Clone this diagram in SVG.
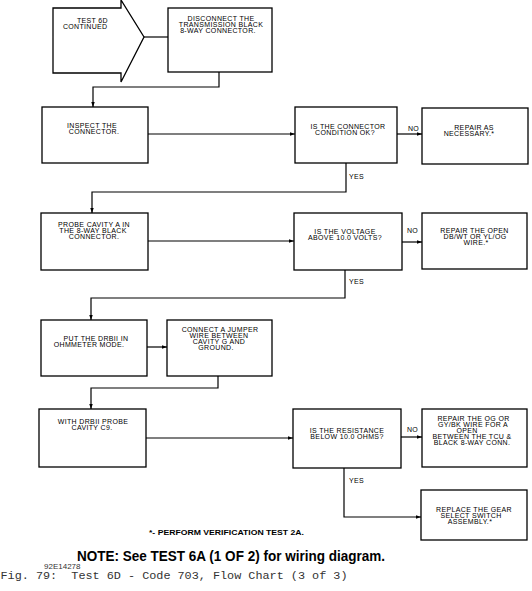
<svg xmlns="http://www.w3.org/2000/svg" width="532" height="591" viewBox="0 0 532 591">
<defs>
<style>
.box{fill:#fff;stroke:#000;stroke-width:1.3}
.ln{fill:none;stroke:#000;stroke-width:1.2}
.t{font-family:"Liberation Sans",Arial,sans-serif;font-size:7px;letter-spacing:0.35px;fill:#000;text-anchor:middle}
.lbl{font-family:"Liberation Sans",Arial,sans-serif;font-size:7px;letter-spacing:0.3px;fill:#000}
.foot{font-family:"Liberation Sans",Arial,sans-serif;font-weight:bold;fill:#000}
.cap{font-family:"Liberation Mono","Courier New",monospace;fill:#333}
</style>
<marker id="ah" viewBox="0 0 10 10" refX="10" refY="5" markerWidth="5" markerHeight="5" orient="auto" markerUnits="userSpaceOnUse">
<path d="M0,1.5 L10,5 L0,8.5 z" fill="#000"/>
</marker>
</defs>
<rect width="532" height="591" fill="#fff"/>

<g id="connectors">
<path class="ln" d="M144,37 H168"/>
<path class="ln" d="M219,72 V87 H93 V107" marker-end="url(#ah)"/>
<path class="ln" d="M148,134 H295" marker-end="url(#ah)"/>
<path class="ln" d="M397,134 H422" marker-end="url(#ah)"/>
<path class="ln" d="M346,163 V192 H92 V213" marker-end="url(#ah)"/>
<path class="ln" d="M148,241 H294" marker-end="url(#ah)"/>
<path class="ln" d="M402,242 H422" marker-end="url(#ah)"/>
<path class="ln" d="M345,270 V298 H91 V320" marker-end="url(#ah)"/>
<path class="ln" d="M147,347 H167" marker-end="url(#ah)"/>
<path class="ln" d="M218,376 V388 H91 V409" marker-end="url(#ah)"/>
<path class="ln" d="M146,438 H293" marker-end="url(#ah)"/>
<path class="ln" d="M401,437 H422" marker-end="url(#ah)"/>
<path class="ln" d="M344,468 V517 H421" marker-end="url(#ah)"/>
<text class="lbl" x="408" y="131">NO</text>
<text class="lbl" x="349" y="179">YES</text>
<text class="lbl" x="407" y="233">NO</text>
<text class="lbl" x="349" y="284">YES</text>
<text class="lbl" x="407" y="432">NO</text>
<text class="lbl" x="349" y="483">YES</text>
</g>

<g id="start">
<polygon class="box" points="53,8 121,8 121,0 144,37 121,82 121,73 53,73"/>
<text class="lbl" x="77" y="23">TEST 6D</text>
<text class="lbl" x="63" y="29">CONTINUED</text>
</g>

<g id="disconnect">
<rect class="box" x="168" y="8" width="104" height="64"/>
<text class="t" x="221" y="21">DISCONNECT THE</text>
<text class="t" x="221" y="27">TRANSMISSION BLACK</text>
<text class="t" x="218" y="33">8-WAY CONNECTOR.</text>
</g>

<g id="inspect">
<rect class="box" x="42" y="107" width="106" height="56"/>
<text class="t" x="92" y="128">INSPECT THE</text>
<text class="t" x="94" y="134">CONNECTOR.</text>
</g>

<g id="q-connector">
<rect class="box" x="295" y="107" width="102" height="56"/>
<text class="t" x="348" y="129">IS THE CONNECTOR</text>
<text class="t" x="345" y="135">CONDITION OK?</text>
</g>

<g id="repair-necessary">
<rect class="box" x="422" y="108" width="106" height="56"/>
<text class="t" x="474" y="130">REPAIR AS</text>
<text class="t" x="469" y="136">NECESSARY.*</text>
</g>

<g id="probe-a">
<rect class="box" x="41" y="213" width="107" height="57"/>
<text class="t" x="94" y="227">PROBE CAVITY A IN</text>
<text class="t" x="93" y="233">THE 8-WAY BLACK</text>
<text class="t" x="94" y="239">CONNECTOR.</text>
</g>

<g id="q-voltage">
<rect class="box" x="294" y="213" width="108" height="57"/>
<text class="t" x="345" y="233.5">IS THE VOLTAGE</text>
<text class="t" x="345" y="239.5">ABOVE 10.0 VOLTS?</text>
</g>

<g id="repair-open">
<rect class="box" x="422" y="213" width="105" height="56"/>
<text class="t" x="474.5" y="233">REPAIR THE OPEN</text>
<text class="t" x="475" y="239">DB/WT OR YL/OG</text>
<text class="t" x="476" y="245">WIRE.*</text>
</g>

<g id="ohmmeter">
<rect class="box" x="41" y="320" width="106" height="56"/>
<text class="t" x="96" y="341">PUT THE DRBII IN</text>
<text class="t" x="89" y="347">OHMMETER MODE.</text>
</g>

<g id="jumper">
<rect class="box" x="167" y="320" width="105" height="56"/>
<text class="t" x="220" y="332">CONNECT A JUMPER</text>
<text class="t" x="219" y="338">WIRE BETWEEN</text>
<text class="t" x="219" y="344">CAVITY G AND</text>
<text class="t" x="216" y="350">GROUND.</text>
</g>

<g id="probe-c9">
<rect class="box" x="39" y="409" width="107" height="58"/>
<text class="t" x="93" y="424">WITH DRBII PROBE</text>
<text class="t" x="92" y="430">CAVITY C9.</text>
</g>

<g id="q-resistance">
<rect class="box" x="293" y="409" width="108" height="59"/>
<text class="t" x="347" y="433">IS THE RESISTANCE</text>
<text class="t" x="347" y="439">BELOW 10.0 OHMS?</text>
</g>

<g id="repair-og">
<rect class="box" x="422" y="409" width="105" height="58"/>
<text class="t" x="473.5" y="421">REPAIR THE OG OR</text>
<text class="t" x="473" y="427">GY/BK WIRE FOR A</text>
<text class="t" x="467" y="433">OPEN</text>
<text class="t" x="472" y="439">BETWEEN THE TCU &amp;</text>
<text class="t" x="472" y="445">BLACK 8-WAY CONN.</text>
</g>

<g id="replace">
<rect class="box" x="421" y="490" width="106" height="50"/>
<text class="t" x="474" y="512">REPLACE THE GEAR</text>
<text class="t" x="471" y="518">SELECT SWITCH</text>
<text class="t" x="470" y="524">ASSEMBLY.*</text>
</g>

<text class="foot" x="149" y="534.5" font-size="8" textLength="155" lengthAdjust="spacingAndGlyphs">*- PERFORM VERIFICATION TEST 2A.</text>
<text class="foot" x="77" y="560.5" font-size="14.5" textLength="308" lengthAdjust="spacingAndGlyphs">NOTE: See TEST 6A (1 OF 2) for wiring diagram.</text>
<text x="44" y="568.5" font-family="Liberation Sans,Arial,sans-serif" font-size="8" fill="#333">92E14278</text>
<text class="cap" x="0.5" y="579" font-size="11" textLength="347" lengthAdjust="spacingAndGlyphs" xml:space="preserve">Fig. 79:  Test 6D - Code 703, Flow Chart (3 of 3)</text>
</svg>
